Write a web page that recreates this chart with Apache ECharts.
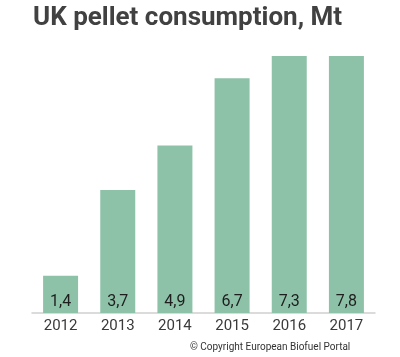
<!DOCTYPE html>
<html>
<head>
<meta charset="utf-8">
<script src="https://cdn.jsdelivr.net/npm/echarts@6/dist/echarts.min.js"></script>
<style>
html,body{margin:0;padding:0;background:#fff;}
#chart{width:400px;height:357px;}
</style>
</head>
<body>
<div id="chart"></div>
<script>
var years = ['2012', '2013', '2014', '2015', '2016', '2017'];
var consumption = [1.4, 3.7, 4.9, 6.7, 7.3, 7.8];
var titleText = 'UK pellet consumption, Mt';
var sourceText = '\u00A9 Copyright European Biofuel Portal';

var chart = echarts.init(document.getElementById('chart'), null, {renderer: 'canvas'});
chart.setOption({
  backgroundColor: '#ffffff',
  animation: false,
  title: [{
    text: titleText,
    left: 28,
    top: 0,
    textStyle: {fontFamily: 'Roboto', fontWeight: 'bold', fontSize: 26, color: '#414141'}
  }, {
    text: sourceText,
    left: 185,
    top: 337,
    textStyle: {fontFamily: 'Roboto', fontWeight: 'normal', fontSize: 10, color: '#333333'}
  }],
  grid: {left: 32, right: 25, top: 56, bottom: 44, containLabel: false},
  xAxis: {
    type: 'category',
    data: years,
    axisLine: {show: true, lineStyle: {color: '#d0d0d0', width: 1.5}},
    axisTick: {show: false},
    axisLabel: {fontFamily: 'Roboto', fontSize: 15, color: '#3a3a3a', margin: 6}
  },
  yAxis: {
    type: 'value',
    min: 0.4,
    max: 7.3,
    show: false,
    splitLine: {show: false}
  },
  series: [{
    type: 'bar',
    data: consumption,
    barWidth: 35,
    clip: true,
    itemStyle: {color: '#8dc2a8'},
    label: {
      show: true,
      position: 'insideBottom',
      distance: 3,
      fontFamily: 'Roboto',
      fontSize: 16,
      color: '#1e1e1e',
      formatter: function (p) { return String(p.value).replace('.', ','); }
    }
  }]
});
</script>
</body>
</html>
